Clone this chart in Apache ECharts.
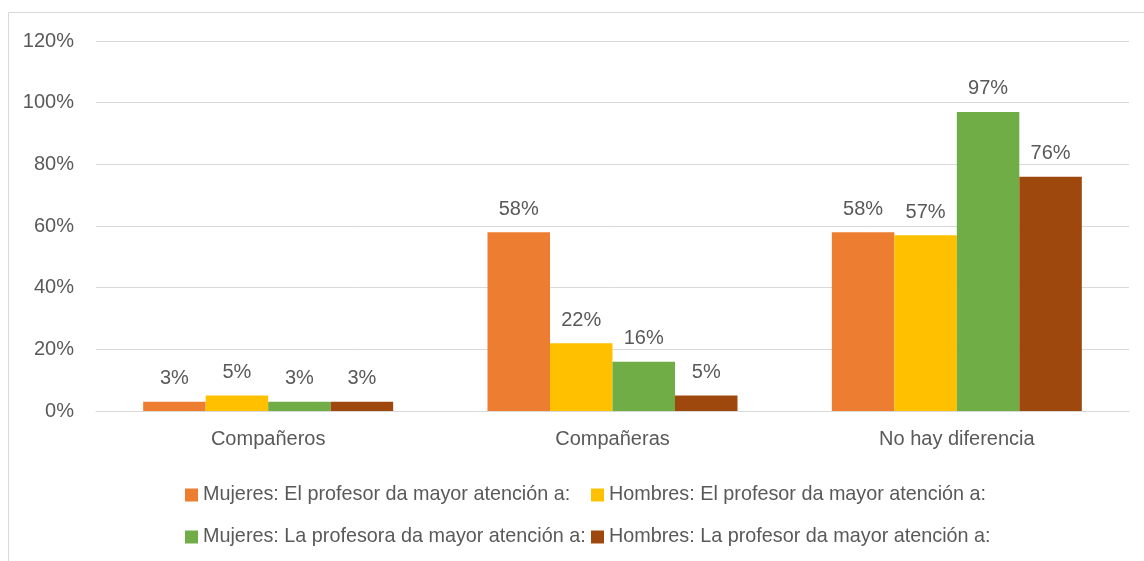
<!DOCTYPE html>
<html>
<head>
<meta charset="utf-8">
<script src="https://cdn.jsdelivr.net/npm/echarts@6/dist/echarts.min.js"></script>
<style>html,body{margin:0;padding:0;background:#fff}#c{width:1144px;height:561px}</style>
</head>
<body>
<div id="c"></div>
<script>
const categories = ['Compañeros', 'Compañeras', 'No hay diferencia'];
const seriesNames = [
  'Mujeres: El profesor da mayor atención a:',
  'Hombres: El profesor da mayor atención a:',
  'Mujeres: La profesora da mayor atención a:',
  'Hombres: La profesor da mayor atención a:'
];
const mujeresProfesor = [3, 58, 58];
const hombresProfesor = [5, 22, 57];
const mujeresProfesora = [3, 16, 97];
const hombresProfesora = [3, 5, 76];
const yTicks = [0, 20, 40, 60, 80, 100, 120];
const colors = ['#ED7D31', '#FFC000', '#70AD47', '#9E480E'];

const FONT = '"Liberation Sans", Arial, sans-serif';
const TXT = '#595959';
const allValues = [mujeresProfesor, hombresProfesor, mujeresProfesora, hombresProfesora];

// legend slots: two columns, two rows
const legendLeft = [185, 591, 185, 591];
const legendTop = [479, 479, 521, 521];

const chart = echarts.init(document.getElementById('c'), null, {renderer: 'canvas'});
chart.setOption({
  animation: false,
  backgroundColor: '#fff',
  textStyle: {fontFamily: FONT},
  graphic: [{
    type: 'rect', left: 6, top: 10, z: -1,
    shape: {width: 1140, height: 560},
    style: {fill: 'none', stroke: '#D9D9D9', lineWidth: 1}
  }],
  grid: {left: 96, right: 15, top: 41, bottom: 150, containLabel: false},
  legend: seriesNames.map((n, i) => ({
    left: legendLeft[i], top: legendTop[i], padding: 0,
    itemWidth: 13, itemHeight: 13, itemGap: 10,
    icon: 'rect',
    textStyle: {fontFamily: FONT, fontSize: 19.8, color: TXT, lineHeight: 32},
    data: [n]
  })),
  xAxis: {
    type: 'category', data: categories,
    axisLine: {lineStyle: {color: '#D9D9D9', width: 1}},
    axisTick: {show: false},
    axisLabel: {fontFamily: FONT, fontSize: 20, color: TXT, margin: 18}
  },
  yAxis: {
    type: 'value', min: yTicks[0], max: yTicks[yTicks.length - 1], interval: 20,
    axisLine: {show: false}, axisTick: {show: false},
    splitLine: {lineStyle: {color: '#D9D9D9', width: 1}},
    axisLabel: {fontFamily: FONT, fontSize: 20, color: TXT, margin: 22, formatter: v => v + '%'}
  },
  series: seriesNames.map((n, i) => ({
    name: n, type: 'bar', data: allValues[i],
    barGap: '0%', barCategoryGap: '27.4%',
    itemStyle: {color: colors[i]},
    label: {show: true, position: 'top', distance: 13, fontFamily: FONT, fontSize: 20, color: TXT, formatter: p => p.value + '%'}
  }))
});
</script>
</body>
</html>
